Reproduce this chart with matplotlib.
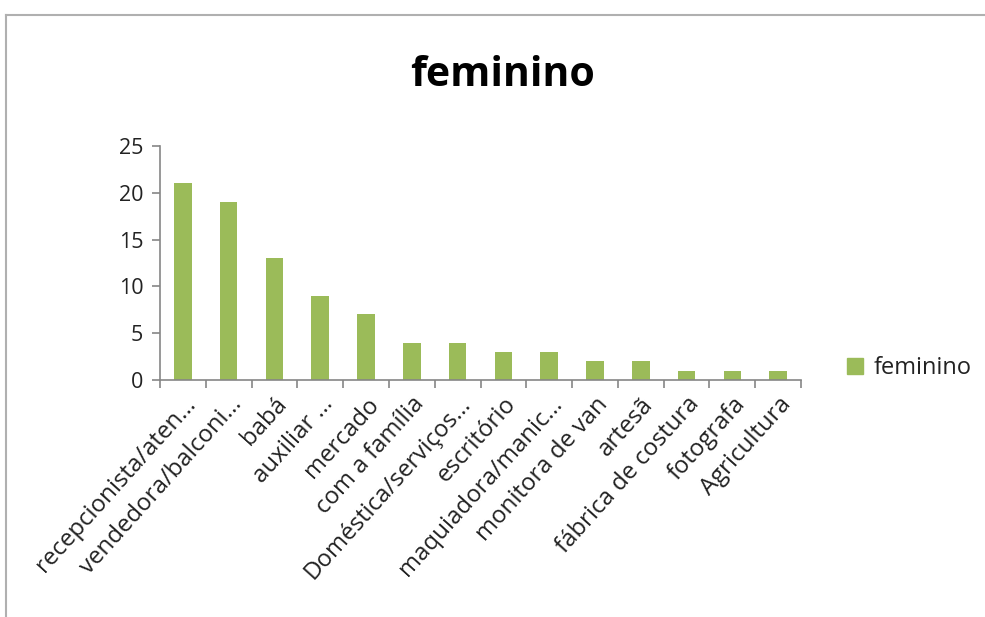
import numpy as np
import matplotlib.pyplot as plt
from matplotlib.lines import Line2D

plt.rcParams['font.family'] = ['Open Sans', 'DejaVu Sans']

# ocupações femininas
categorias = ['recepcionista/aten…', 'vendedora/balconi…', 'babá', 'auxiliar …',
              'mercado', 'com a família', 'Doméstica/serviços…', 'escritório',
              'maquiadora/manic…', 'monitora de van', 'artesã',
              'fábrica de costura', 'fotografa', 'Agricultura']
valores = [21, 19, 13, 9, 7, 4, 4, 3, 3, 2, 2, 1, 1, 1]
yticks = [0, 5, 10, 15, 20, 25]

verde = '#9BBB59'
cinza = '#868686'

fig = plt.figure(figsize=(9.85, 6.17), dpi=100)
ax = fig.add_axes([160/985, 1 - 380/617, 641/985, 234/617])

x = np.arange(len(categorias))
ax.bar(x, valores, width=0.385, color=verde, label='feminino')

ax.set_xlim(-0.5, len(categorias) - 0.5)
ax.set_ylim(0, 25)
ax.set_yticks(yticks)
ax.set_yticklabels([str(v) for v in yticks], fontsize=15.5, color='#222222')
ax.set_xticks(x)
ax.set_xticklabels(categorias, rotation=48, ha='right', va='top',
                   rotation_mode='anchor', fontsize=17.3, color='#222222')
ax.xaxis.set_tick_params(length=0, pad=9)
# marcas entre categorias
ax.set_xticks(np.arange(-0.5, len(categorias)), minor=True)
ax.tick_params(axis='x', which='minor', length=6, color=cinza, width=1.2)
ax.tick_params(axis='y', length=6, color=cinza, width=1.2, pad=6)

for s in ['top', 'right']:
    ax.spines[s].set_visible(False)
for s in ['left', 'bottom']:
    ax.spines[s].set_color(cinza)
    ax.spines[s].set_linewidth(1.2)

fig.text(503/985, 1 - 76/617, 'feminino', ha='center', va='center',
         fontsize=29.5, fontweight='bold', color='black')

handle = Line2D([], [], marker='s', linestyle='none', markersize=11,
                markerfacecolor=verde, markeredgecolor=verde)
fig.legend([handle], ['feminino'], loc='center left',
           bbox_to_anchor=(822/985, 1 - 368/617), frameon=False,
           fontsize=17, handletextpad=-0.2, borderaxespad=0,
           labelcolor='#222222')

# moldura
fig.add_artist(Line2D([6/985, 1], [1 - 15/617, 1 - 15/617], color='#b0b0b0', lw=1.5))
fig.add_artist(Line2D([6/985, 6/985], [0, 1 - 15/617], color='#b0b0b0', lw=1.5))

fig.savefig('out.png', dpi=100, facecolor='white')
